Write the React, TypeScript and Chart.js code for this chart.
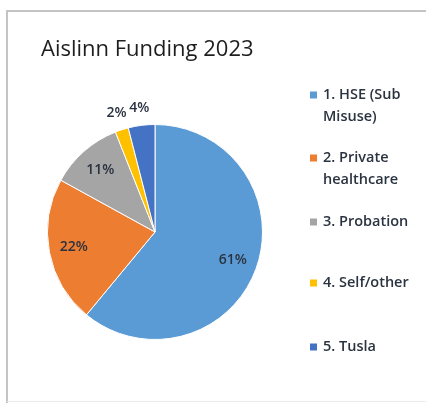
import React, { useEffect, useRef } from "react";
import { Chart, registerables } from "chart.js";

Chart.register(...registerables);

const chartTitle = "Aislinn Funding 2023";
const categories = ["1. HSE (Sub Misuse)", "2. Private healthcare", "3. Probation", "4. Self/other", "5. Tusla"];
const legendLines = [["1. HSE (Sub", "Misuse)"], ["2. Private", "healthcare"], ["3. Probation"], ["4. Self/other"], ["5. Tusla"]];
const shares = [61, 22, 11, 2, 4];
const colors = ["#5B9BD5", "#ED7D31", "#A5A5A5", "#FFC000", "#4472C4"];

const TEXT = "#2a3340";
const FONT = "'Open Sans', sans-serif";

const framePlugin = {
  id: "frame",
  beforeDraw(chart: any) {
    const ctx = chart.ctx;
    ctx.save();
    ctx.fillStyle = "#ffffff";
    ctx.fillRect(0, 0, chart.width, chart.height);
    ctx.strokeStyle = "#c4c4c4";
    ctx.lineWidth = 2;
    ctx.beginPath();
    ctx.moveTo(7, chart.height + 5);
    ctx.lineTo(7, 11);
    ctx.lineTo(chart.width + 5, 11);
    ctx.stroke();
    ctx.strokeStyle = "#ececec";
    ctx.lineWidth = 1;
    ctx.beginPath();
    ctx.moveTo(7, chart.height - 1.5);
    ctx.lineTo(chart.width, chart.height - 1.5);
    ctx.stroke();
    ctx.restore();
  },
};

const textPlugin = {
  id: "texts",
  afterDraw(chart: any) {
    const ctx = chart.ctx;
    ctx.save();
    // title
    ctx.fillStyle = "#1e1e1e";
    ctx.font = `400 22px ${FONT}`;
    ctx.textAlign = "left";
    ctx.textBaseline = "alphabetic";
    ctx.fillText(chartTitle, 41, 56);

    // data labels
    ctx.textBaseline = "middle";
    const meta = chart.getDatasetMeta(0);
    const data = chart.data.datasets[0].data as number[];
    const total = data.reduce((a, b) => a + b, 0);
    ctx.font = `600 14px ${FONT}`;
    ctx.textAlign = "center";
    ctx.fillStyle = TEXT;
    meta.data.forEach((arc: any, i: number) => {
      const p = arc.getProps(["x", "y", "startAngle", "endAngle", "outerRadius"], true);
      const mid = (p.startAngle + p.endAngle) / 2;
      const pct = Math.round((data[i] / total) * 100);
      const f = pct < 5 ? 1.16 : 0.77;
      const x = p.x + Math.cos(mid) * p.outerRadius * f;
      const y = p.y + Math.sin(mid) * p.outerRadius * f;
      ctx.fillText(pct + "%", x, y);
    });

    // legend
    const ys = [95, 158, 222, 283, 347];
    ctx.font = `600 14.5px ${FONT}`;
    ctx.textAlign = "left";
    chart.data.labels.forEach((_: string, i: number) => {
      const bg = (chart.data.datasets[0].backgroundColor as string[])[i];
      ctx.fillStyle = bg;
      ctx.fillRect(310, ys[i] - 3.5, 7, 7);
      ctx.fillStyle = TEXT;
      legendLines[i].forEach((line, j) => {
        ctx.fillText(line, 323, ys[i] + j * 22);
      });
    });
    ctx.restore();
  },
};

export default function App() {
  const ref = useRef<HTMLCanvasElement>(null);
  useEffect(() => {
    document.body.style.margin = "0";
    const chart = new Chart(ref.current!, {
      type: "pie",
      data: {
        labels: categories,
        datasets: [
          {
            data: shares,
            backgroundColor: colors,
            borderColor: "#ffffff",
            borderWidth: 1,
          },
        ],
      },
      options: {
        animation: false,
        responsive: false,
        events: [],
        layout: { padding: { left: 47, right: 163, top: 124, bottom: 63 } },
        plugins: {
          legend: { display: false },
          title: { display: false },
          tooltip: { enabled: false },
        },
      },
      plugins: [framePlugin, textPlugin],
    });
    return () => chart.destroy();
  }, []);
  return (
    <div style={{ width: 426, height: 403 }}>
      <canvas ref={ref} width={426} height={403} style={{ display: "block" }} />
    </div>
  );
}
